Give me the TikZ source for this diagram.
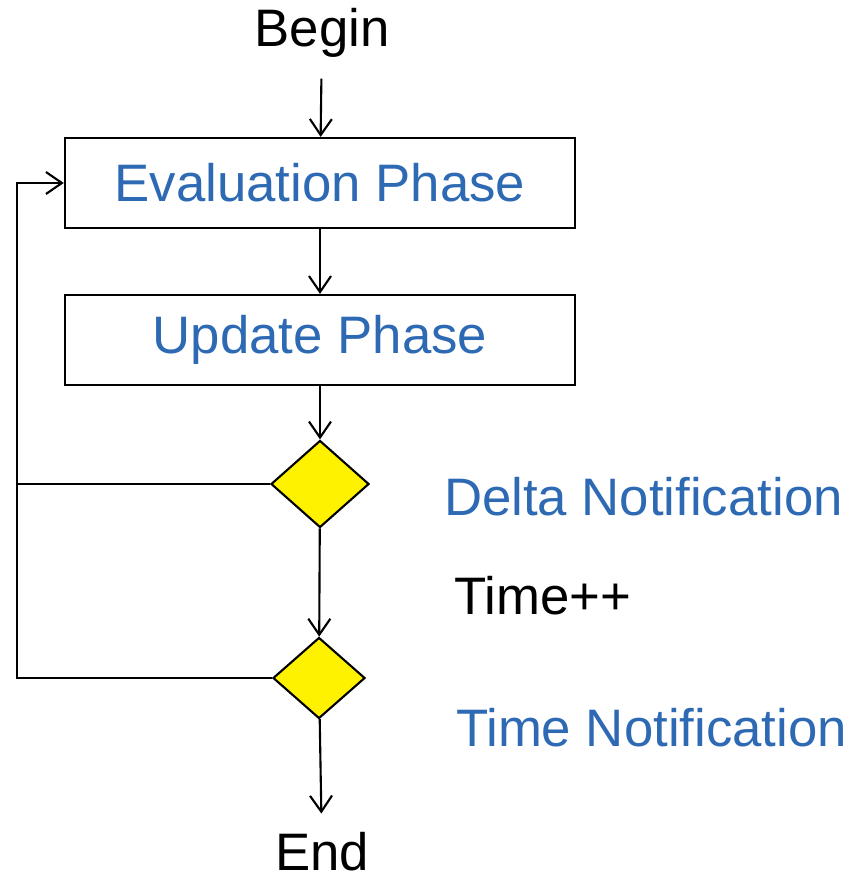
\documentclass[tikz,border=0pt]{standalone}
\usepackage{fontspec}
\setmainfont{Liberation Sans}
\usetikzlibrary{shapes.geometric,arrows.meta}
\definecolor{phaseblue}{RGB}{46,106,180}
\begin{document}
\begin{tikzpicture}[x=0.01cm,y=-0.01cm,line width=0.6pt,
    txt/.style={font=\fontsize{15}{18}\selectfont},
    phase/.style={txt,draw,minimum width=5.1cm,minimum height=0.9cm,text=phaseblue},
    decide/.style={diamond,draw,fill=yellow,inner sep=0pt},
    term/.style={txt,inner sep=2mm},
    note/.style={txt,anchor=west,inner sep=0pt},
    arr/.style={-{Straight Barb[length=1.6mm,width=2.2mm]}}]
  \useasboundingbox (0,0) rectangle (854,877);
  \node[term] (begin) at (322,33) {Begin};
  \node[phase] (eval) at (320,183) {Evaluation Phase};
  \node[phase] (update) at (320,340) {Update Phase};
  \node[decide,minimum width=0.98cm,minimum height=0.87cm] (delta) at (320,484) {};
  \node[decide,minimum width=0.92cm,minimum height=0.81cm] (timed) at (319,678) {};
  \node[term,inner sep=1.8mm] (end) at (322,852) {End};
  % Notification labels
  \node[note,text=phaseblue] (deltatxt) at (443,497) {Delta Notification};
  \node[note] (timeinc) at (453,596) {Time++};
  \node[note,text=phaseblue] (timetxt) at (455,728) {Time Notification};
  % Main flow
  \draw[arr] (begin) -- (eval);
  \draw[arr] (eval) -- (update);
  \draw[arr] (update) -- (delta);
  \draw[arr] (delta) -- (timed);
  \draw[arr] (timed) -- (end);
  % Loop back
  \coordinate (turn) at (17,484);
  \draw[arr] (delta.west) -- (turn) |- (eval.west);
  \draw (timed.west) -| (turn);
\end{tikzpicture}
\end{document}
